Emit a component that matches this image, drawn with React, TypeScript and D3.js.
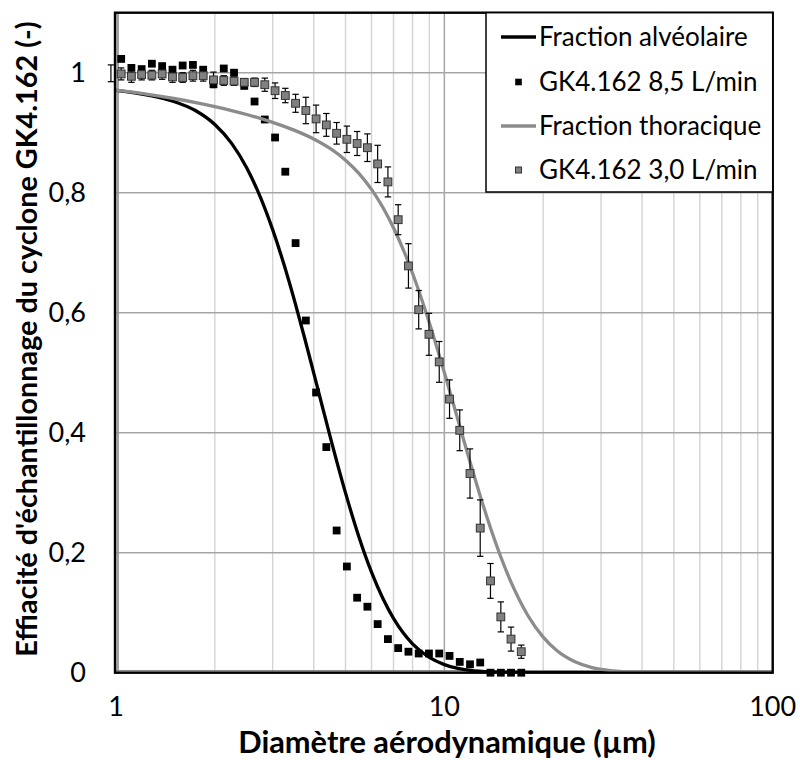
import React from "react";
import * as d3 from "d3";

// ---------- data ----------
const xTicks = [1, 10, 100];
const xMinor = [2, 3, 4, 5, 6, 7, 8, 9, 20, 30, 40, 50, 60, 70, 80, 90];
const yTicks = [0, 0.2, 0.4, 0.6, 0.8, 1];
const yTickLabels = ["0", "0,2", "0,4", "0,6", "0,8", "1"];

const seriesNames = [
  "Fraction alvéolaire",
  "GK4.162 8,5 L/min",
  "Fraction thoracique",
  "GK4.162 3,0 L/min",
];

// Fraction alvéolaire (curve)
const alvD = [1, 1.25, 1.5, 1.75, 2, 2.25, 2.5, 2.75, 3, 3.25, 3.5, 3.75, 4, 4.25, 4.5, 5, 5.5, 6, 6.5, 7, 7.5, 8, 9, 10, 11, 12, 14, 16, 20, 30, 50, 100];
const alvY = [0.9707, 0.9626, 0.9521, 0.9366, 0.9137, 0.8822, 0.8417, 0.7932, 0.7385, 0.6798, 0.6192, 0.5586, 0.4997, 0.4437, 0.3914, 0.2997, 0.2255, 0.1677, 0.1236, 0.0905, 0.066, 0.0481, 0.0254, 0.0135, 0.0072, 0.0039, 0.0012, 0.0004, 0.0001, 0, 0, 0];

// Fraction thoracique (curve)
const thorD = [1, 1.25, 1.5, 1.75, 2, 2.25, 2.5, 2.75, 3, 3.5, 4, 4.5, 5, 5.5, 6, 6.5, 7, 7.5, 8, 9, 10, 11, 12, 13, 14, 15, 16, 18, 20, 22, 25, 28, 30, 35, 40, 50, 70, 100];
const thorY = [0.9709, 0.9639, 0.957, 0.9502, 0.9435, 0.9368, 0.9303, 0.9238, 0.9173, 0.9039, 0.8896, 0.8733, 0.8542, 0.8318, 0.8055, 0.7753, 0.7416, 0.7049, 0.6657, 0.5833, 0.5003, 0.4213, 0.3494, 0.2863, 0.2323, 0.187, 0.1496, 0.0945, 0.0592, 0.0369, 0.0182, 0.009, 0.0057, 0.0019, 0.0006, 0.0001, 0, 0];

// GK4.162 8,5 L/min
const d85 = [1.037, 1.114, 1.197, 1.286, 1.382, 1.486, 1.596, 1.715, 1.843, 1.981, 2.129, 2.288, 2.458, 2.642, 2.839, 3.051, 3.278, 3.523, 3.786, 4.068, 4.371, 4.698, 5.048, 5.425, 5.829, 6.264, 6.732, 7.234, 7.774, 8.354, 8.977, 9.647, 10.37, 11.14, 11.97, 12.86, 13.82, 14.86, 15.96, 17.15];
const e85 = [1.023, 1.008, 1.006, 1.015, 1.011, 1.005, 1.012, 1.013, 1.005, 0.981, 1.007, 1.0, 0.978, 0.952, 0.922, 0.892, 0.835, 0.716, 0.587, 0.467, 0.376, 0.237, 0.177, 0.125, 0.11, 0.081, 0.056, 0.041, 0.035, 0.032, 0.032, 0.032, 0.028, 0.018, 0.014, 0.017, 0, 0, 0, 0];

// GK4.162 3,0 L/min
const d30 = [0.965, 1.037, 1.114, 1.197, 1.286, 1.382, 1.486, 1.596, 1.715, 1.843, 1.981, 2.129, 2.288, 2.458, 2.642, 2.839, 3.051, 3.278, 3.523, 3.786, 4.068, 4.371, 4.698, 5.048, 5.425, 5.829, 6.264, 6.732, 7.234, 7.774, 8.354, 8.977, 9.647, 10.37, 11.14, 11.97, 12.86, 13.82, 14.86, 15.96, 17.15];
const e30 = [0.999, 0.998, 0.994, 0.997, 0.996, 0.998, 0.993, 0.992, 0.995, 0.995, 0.988, 0.987, 0.986, 0.984, 0.984, 0.98, 0.97, 0.962, 0.949, 0.937, 0.923, 0.913, 0.899, 0.889, 0.882, 0.875, 0.848, 0.818, 0.755, 0.678, 0.605, 0.564, 0.518, 0.456, 0.404, 0.332, 0.241, 0.153, 0.093, 0.056, 0.035];
const err30 = [0.014, 0.01, 0.01, 0.009, 0.008, 0.009, 0.009, 0.008, 0.009, 0.009, 0.013, 0.008, 0.007, 0.006, 0.007, 0.011, 0.013, 0.012, 0.015, 0.022, 0.023, 0.019, 0.018, 0.022, 0.02, 0.023, 0.031, 0.025, 0.025, 0.037, 0.032, 0.035, 0.034, 0.032, 0.034, 0.041, 0.047, 0.029, 0.025, 0.02, 0.011];

// ---------- layout ----------
const W = 800;
const H = 760;
const left = 116;
const right = 772.7;
const top = 12.7;
const bottom = 672.7;
const FONT = "Lato, 'Open Sans', sans-serif";

export default function App() {
  const x = d3.scaleLog().domain([1, 100]).range([left, right]);
  const y = d3.scaleLinear().domain([0, 1.1]).range([bottom, top]);

  const line = d3
    .line<[number, number]>()
    .x((d) => x(d[0]))
    .y((d) => y(d[1]))
    .curve(d3.curveMonotoneX);

  const alvPath = line(alvD.map((d, i) => [d, alvY[i]]) as [number, number][]) || "";
  const thorPath = line(thorD.map((d, i) => [d, thorY[i]]) as [number, number][]) || "";

  const ms = 7.8;
  const cap = 3.2;

  const legX = 486;
  const legY = top;
  const legW = right - legX;
  const legH = 192 - top;
  const rowY = [37, 82, 126, 170];
  const sampleX1 = 501;
  const sampleX2 = 536;
  const textX = 539;

  return (
    <svg
      width={W}
      height={H}
      style={{ position: "absolute", left: 0, top: 0, background: "#fff" }}
      fontFamily={FONT}
    >
      <rect x={0} y={0} width={W} height={H} fill="#fff" />
      <defs>
        <clipPath id="plotClip">
          <rect x={left} y={top} width={right - left} height={bottom - top} />
        </clipPath>
      </defs>

      {/* minor vertical gridlines */}
      {xMinor.map((v) => (
        <line key={"mn" + v} x1={x(v)} x2={x(v)} y1={top} y2={bottom} stroke="#d4d4d4" strokeWidth={1.4} />
      ))}
      {/* major vertical gridlines */}
      {xTicks.map((v) => (
        <line key={"mj" + v} x1={x(v)} x2={x(v)} y1={top} y2={bottom} stroke="#a6a6a6" strokeWidth={1.5} />
      ))}
      {/* horizontal gridlines */}
      {yTicks.map((v) => (
        <line key={"hy" + v} x1={left} x2={right} y1={y(v)} y2={y(v)} stroke="#a6a6a6" strokeWidth={1.5} />
      ))}

      {/* axis lines (gray) */}
      <line x1={left + 2} x2={left + 2} y1={top} y2={bottom} stroke="#8a8a8a" strokeWidth={1.6} />
      <line x1={left} x2={right} y1={bottom - 2} y2={bottom - 2} stroke="#8a8a8a" strokeWidth={1.6} />

      {/* series 1: Fraction alvéolaire */}
      <path d={alvPath} fill="none" stroke="#000" strokeWidth={3.3} clipPath="url(#plotClip)" />

      {/* series 2: GK4.162 8,5 L/min */}
      {d85.map((d, i) => (
        <rect key={"b" + i} x={x(d) - ms / 2} y={y(e85[i]) - ms / 2} width={ms} height={ms} fill="#000" />
      ))}

      {/* series 3: Fraction thoracique */}
      <path d={thorPath} fill="none" stroke="#8c8c8c" strokeWidth={3.3} clipPath="url(#plotClip)" />

      {/* series 4: GK4.162 3,0 L/min with error bars */}
      {d30.map((d, i) => {
        const cx = x(d);
        const y1 = y(e30[i] + err30[i]);
        const y2 = y(e30[i] - err30[i]);
        return (
          <g key={"g" + i}>
            <line x1={cx} x2={cx} y1={y1} y2={y2} stroke="#000" strokeWidth={1.2} />
            <line x1={cx - cap} x2={cx + cap} y1={y1} y2={y1} stroke="#000" strokeWidth={1.2} />
            <line x1={cx - cap} x2={cx + cap} y1={y2} y2={y2} stroke="#000" strokeWidth={1.2} />
          </g>
        );
      })}
      {d30.map((d, i) =>
        d >= 1 ? (
          <rect
            key={"gs" + i}
            x={x(d) - ms / 2}
            y={y(e30[i]) - ms / 2}
            width={ms}
            height={ms}
            fill="#808080"
            stroke="#333"
            strokeWidth={1}
          />
        ) : null
      )}

      {/* plot frame */}
      <rect x={left - 1} y={top} width={right - left + 1} height={bottom - top} fill="none" stroke="#000" strokeWidth={2.4} />

      {/* y tick labels */}
      {yTicks.map((v, i) => (
        <text key={"yl" + v} x={86} y={y(v)} dy="0.35em" textAnchor="end" fontSize={27} fill="#000">
          {yTickLabels[i]}
        </text>
      ))}
      {/* x tick labels */}
      {xTicks.map((v) => (
        <text key={"xl" + v} x={x(v)} y={716} textAnchor="middle" fontSize={27} fill="#000">
          {String(v)}
        </text>
      ))}

      {/* axis titles */}
      <text x={447} y={753} textAnchor="middle" fontSize={30.8} fontWeight="bold" fill="#000">
        Diamètre aérodynamique (µm)
      </text>
      <text
        transform={`translate(37, 339) rotate(-90)`}
        textAnchor="middle"
        fontSize={28.8}
        fontWeight="bold"
        fill="#000"
      >
        Effiacité d'échantillonnage du cyclone GK4.162 (-)
      </text>

      {/* legend */}
      <rect x={legX} y={legY} width={legW} height={legH} fill="#fff" stroke="#000" strokeWidth={1.5} />
      <line x1={sampleX1} x2={sampleX2} y1={rowY[0]} y2={rowY[0]} stroke="#000" strokeWidth={3.3} />
      <rect x={(sampleX1 + sampleX2) / 2 - 3.3} y={rowY[1] - 3.3} width={6.6} height={6.6} fill="#000" />
      <line x1={sampleX1} x2={sampleX2} y1={rowY[2]} y2={rowY[2]} stroke="#8c8c8c" strokeWidth={3.3} />
      <rect x={(sampleX1 + sampleX2) / 2 - 3} y={rowY[3] - 3} width={6} height={6} fill="#808080" stroke="#333" strokeWidth={1} />
      {seriesNames.map((n, i) => (
        <text key={"lg" + i} x={textX} y={rowY[i]} dy="0.35em" fontSize={26} fill="#000">
          {n}
        </text>
      ))}
    </svg>
  );
}
